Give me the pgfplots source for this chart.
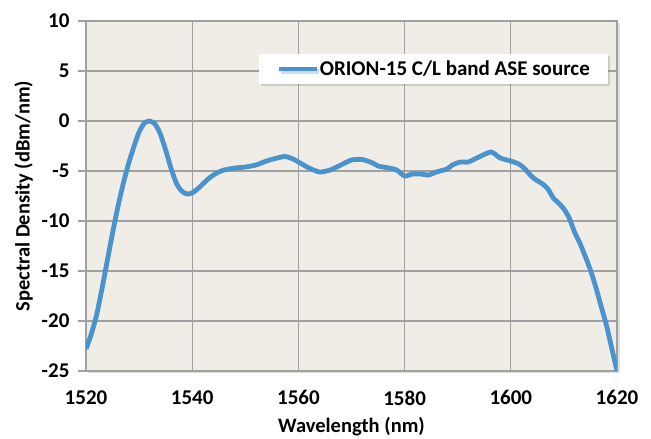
\documentclass[border=0pt]{standalone}
\usepackage{fontspec}
\setmainfont{Carlito}
\usepackage{pgfplots}
\pgfplotsset{compat=1.18}
\usetikzlibrary{shadows}
\definecolor{bgc}{RGB}{240,237,230}
\definecolor{gridc}{RGB}{160,160,160}
\definecolor{linec}{RGB}{75,147,205}
\begin{document}
\begin{tikzpicture}
\useasboundingbox (-86pt,-68pt) rectangle (565pt,371pt);
\begin{axis}[
  at={(0pt,0pt)}, anchor=south west,
  scale only axis, width=531pt, height=350pt,
  xmin=1520, xmax=1620, ymin=-25, ymax=10,
  xtick={1520,1540,...,1620}, ytick={-25,-20,...,10},
  grid=major,
  major grid style={draw=gridc, line width=1.1pt},
  axis line style={draw=gridc, line width=1.1pt},
  axis background/.style={fill=bgc, drop shadow={opacity=0.25, shadow xshift=2.5pt, shadow yshift=-2.5pt}},
  tick align=outside,
  major tick length=8pt,
  ytick style={draw=gridc, line width=1.1pt},
  xtick style={draw=none},
  xtick pos=bottom, ytick pos=left,
  /pgf/number format/assume math mode=true,
  /pgf/number format/1000 sep={},
  ticklabel style={font=\fontsize{21}{25}\selectfont\bfseries},
  yticklabel style={xshift=-5pt},
  xticklabel style={yshift=-8pt},
  xlabel={Wavelength (nm)},
  ylabel={Spectral Density (dBm/nm)},
  label style={font=\fontsize{20.5}{25}\selectfont\bfseries},
  xlabel style={yshift=-5pt},
  ylabel style={yshift=2pt},
  legend style={at={(0.983,0.906)}, anchor=north east, draw=none, fill=white,
    drop shadow={opacity=0.3, shadow xshift=2pt, shadow yshift=-2pt},
    font=\fontsize{21}{25}\selectfont\bfseries, inner xsep=17pt, inner ysep=5pt,
    nodes={inner xsep=1pt}},
  legend image code/.code={\draw[#1, line width=4.5pt] (0pt,0pt) -- (38pt,0pt);},
]
\addplot[color=linec, line width=4.8pt, smooth, tension=0.4] coordinates {
(1520,-22.8) (1521,-21.3) (1522,-19.4) (1523,-16.8) (1524,-14.0) (1525,-11.2)
(1526,-8.6) (1527,-6.3) (1528,-4.3) (1529,-2.6) (1530,-1.1) (1531,-0.2)
(1532,0.0) (1533,-0.3) (1534,-1.3) (1535,-2.9) (1536,-4.7) (1537,-6.2)
(1538,-7.0) (1539,-7.3) (1540,-7.2) (1541,-6.8) (1542,-6.3) (1543,-5.8)
(1544,-5.4) (1545,-5.1) (1546,-4.9) (1547,-4.8) (1548,-4.7) (1550,-4.6)
(1552,-4.4) (1554,-4.0) (1556,-3.7) (1557.5,-3.55) (1559,-3.8) (1560,-4.1)
(1562,-4.7) (1564,-5.1) (1566,-4.9) (1568,-4.4) (1570,-3.9) (1572,-3.85)
(1574,-4.2) (1575,-4.5) (1577,-4.7) (1578.5,-4.9) (1580,-5.5) (1581.5,-5.3)
(1583,-5.3) (1584.5,-5.4) (1586,-5.1) (1588,-4.8) (1589,-4.4) (1590.5,-4.1)
(1592,-4.1) (1594,-3.6) (1596.3,-3.1) (1598,-3.7) (1600,-4.0) (1601.5,-4.3)
(1602.5,-4.7) (1603.5,-5.3) (1604.5,-5.8) (1606,-6.3) (1607,-6.8) (1608,-7.7)
(1609,-8.2) (1610,-8.8) (1611,-9.7) (1612,-11.1) (1613,-12.2) (1614,-13.5)
(1615,-14.9) (1616,-16.6) (1617,-18.5) (1618,-20.4) (1619,-22.7) (1620,-25.0)
};
\addlegendentry{ORION-15 C/L band ASE source}
\end{axis}
\end{tikzpicture}
\end{document}
